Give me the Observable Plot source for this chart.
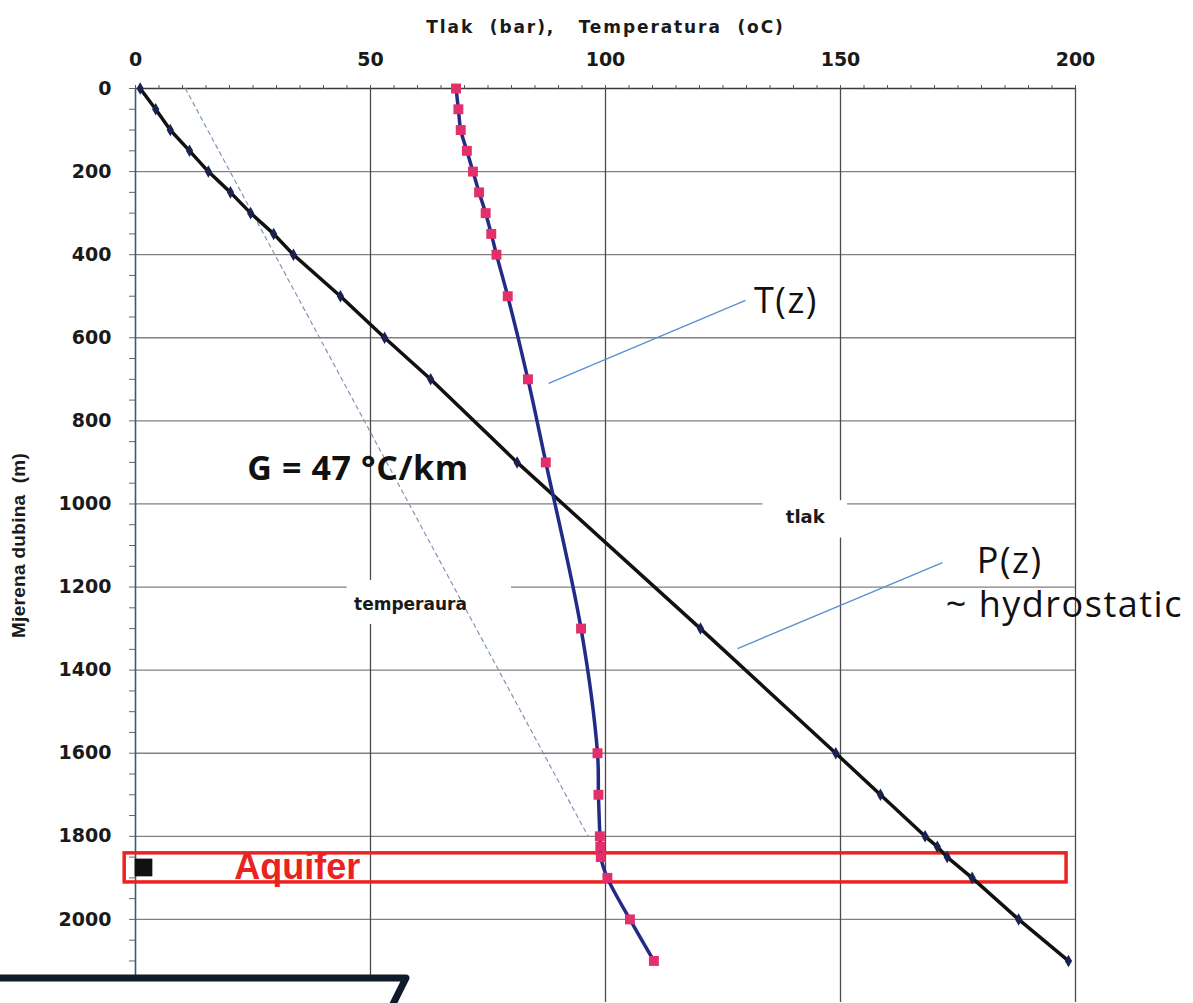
<!DOCTYPE html>
<html>
<head>
<meta charset="utf-8">
<script src="https://cdn.jsdelivr.net/npm/d3@7"></script>
<script src="https://cdn.jsdelivr.net/npm/@observablehq/plot@0.6"></script>
<style>
  html, body { margin: 0; padding: 0; background: #fff; }
  #wrap { position: relative; width: 1193px; height: 1003px; overflow: hidden; }
  #deco { position: absolute; left: 0; top: 0; pointer-events: none; }
</style>
</head>
<body>
<div id="wrap"></div>
<script>
// ---- data ----
const xTicks = [0, 50, 100, 150, 200];
const yTicks = [0, 200, 400, 600, 800, 1000, 1200, 1400, 1600, 1800, 2000];

// temperature profile T(z)
const depthT = [0, 50, 100, 150, 200, 250, 300, 350, 400, 500, 700, 900, 1300, 1600, 1700, 1800, 1825, 1850, 1900, 2000, 2100];
const tempT  = [68.2, 68.7, 69.2, 70.5, 71.8, 73.1, 74.5, 75.7, 76.8, 79.2, 83.5, 87.3, 94.8, 98.3, 98.5, 98.8, 98.9, 99.0, 100.4, 105.2, 110.3];

// pressure profile P(z)
const depthP = [0, 50, 100, 150, 200, 250, 300, 350, 400, 500, 600, 700, 900, 1300, 1600, 1700, 1800, 1825, 1850, 1900, 2000, 2100];
const presP  = [1, 4.3, 7.4, 11.5, 15.5, 20.2, 24.5, 29.4, 33.6, 43.6, 53, 62.8, 81.2, 120.2, 149, 158.5, 168, 170.6, 172.7, 178, 187.9, 198.5];

// geothermal gradient line (G = 47 °C/km)
const depthG = [0, 1800];
const tempG  = [10.6, 96.3];

// aquifer interval (m)
const aquiferTop = 1841, aquiferBottom = 1911;

const xTitle = "Tlak  (bar),   Temperatura  (oC)";
const yTitle = "Mjerena dubina  (m)";

// ---- build rows ----
const tRows = depthT.map((d, i) => ({depth: d, v: tempT[i]}));
const pRows = depthP.map((d, i) => ({depth: d, v: presP[i]}));
const gRows = depthG.map((d, i) => ({depth: d, v: tempG[i]}));

const boldFont = "'DejaVu Sans', sans-serif";
const annFont = "'Open Sans', 'Noto Sans', sans-serif";

const chart = Plot.plot({
  width: 1193,
  height: 1003,
  marginLeft: 135,
  marginRight: 118,
  marginTop: 88,
  marginBottom: 1,
  x: {domain: [0, 200]},
  y: {domain: [0, 2200], reverse: true},
  style: {background: "transparent", color: "#222"},
  marks: [
    // grid
    Plot.gridY(d3.range(200, 2200, 200), {stroke: "#808080", strokeOpacity: 1, strokeWidth: 1.3}),
    Plot.gridX([50, 100, 150, 200], {stroke: "#4a4a4a", strokeOpacity: 1, strokeWidth: 1.3}),
    // white label boxes that break the grid
    Plot.rect([0], {x1: 133.5, x2: 151.5, y1: 992, y2: 1082, fill: "white"}),
    Plot.rect([0], {x1: 45, x2: 80, y1: 1184, y2: 1290, fill: "white"}),
    // axes frame
    Plot.ruleY([0], {stroke: "#3a3a3a", strokeWidth: 1.6}),
    Plot.ruleX([0], {stroke: "#33606c", strokeWidth: 1.6}),
    // minor ticks
    Plot.axisX({anchor: "top", ticks: d3.range(0, 201, 5), tickSize: 4, tickFormat: () => "", label: null, stroke: "#555"}),
    Plot.axisY({anchor: "left", ticks: d3.range(0, 2200, 50), tickSize: 6, tickFormat: () => "", label: null, stroke: "#666"}),
    // major tick labels
    Plot.axisX({anchor: "top", ticks: xTicks, tickSize: 0, tickPadding: 23, label: null, tickFormat: d => String(d),
      fontSize: 19, fontWeight: "bold", fontFamily: boldFont, fill: "#1a1a1a"}),
    Plot.axisY({anchor: "left", ticks: yTicks, tickSize: 0, tickPadding: 24, label: null, tickFormat: d => String(d),
      fontSize: 19, fontWeight: "bold", fontFamily: boldFont, fill: "#1a1a1a"}),
    // axis titles
    Plot.text([xTitle], {frameAnchor: "top", dy: -68, fontSize: 17, fontWeight: "bold", fontFamily: boldFont, fill: "#1a1a1a"}),
    Plot.text([yTitle], {frameAnchor: "left", textAnchor: "middle", rotate: -90, dx: -117, fontSize: 19, fontWeight: "bold",
      fontFamily: "'Liberation Sans', sans-serif", fill: "#1a1a1a"}),
    // gradient (dashed)
    Plot.line(gRows, {x: "v", y: "depth", stroke: "#8096b5", strokeWidth: 1.2, strokeDasharray: "4,4"}),
    // aquifer
    Plot.rect([0], {x1: -2.3, x2: 198.1, y1: aquiferTop, y2: aquiferBottom, fill: "none", stroke: "#ea2320", strokeWidth: 3.5}),
    Plot.dot([0], {x: 1.7, y: 1875, symbol: "square", r: 10, fill: "#111"}),
    // pressure
    Plot.line(pRows, {x: "v", y: "depth", stroke: "#111", strokeWidth: 3.5}),
    Plot.dot(pRows, {x: "v", y: "depth", symbol: "diamond", r: 3.8, fill: "#1b2150"}),
    // temperature
    Plot.line(tRows, {x: "v", y: "depth", curve: "catmull-rom", stroke: "#222b86", strokeWidth: 3.5}),
    Plot.dot(tRows, {x: "v", y: "depth", symbol: "square", r: 5.6, fill: "#e3306b"}),
    // leader lines
    Plot.link([0], {x1: 87.9, y1: 710, x2: 129.8, y2: 510, stroke: "#5b8fd0", strokeWidth: 1.3}),
    Plot.link([0], {x1: 128.1, y1: 1348, x2: 171.7, y2: 1141, stroke: "#5b8fd0", strokeWidth: 1.3}),
    // annotations
    Plot.text(["T(z)"], {x: 131.6, y: 512, textAnchor: "start", fontSize: 36, fontFamily: annFont, fill: "#111"}),
    Plot.text(["P(z)"], {x: 179, y: 1138, textAnchor: "start", fontSize: 36, fontFamily: annFont, fill: "#111"}),
    Plot.text(["~ hydrostatic"], {x: 172.4, y: 1245, textAnchor: "start", fontSize: 36, fontFamily: annFont, fill: "#111"}),
    Plot.text(["G = 47 °C/km"], {x: 23.8, y: 915, textAnchor: "start", fontSize: 34, fontWeight: "bold", fontFamily: annFont, fill: "#111"}),
    Plot.text(["temperaura"], {x: 58.5, y: 1242, fontSize: 17, fontWeight: "bold", fontFamily: boldFont, fill: "#1a1a1a"}),
    Plot.text(["tlak"], {x: 142.5, y: 1033, fontSize: 18, fontWeight: "bold", fontFamily: boldFont, fill: "#1a1a1a"}),
    Plot.text(["Aquifer"], {x: 21, y: 1874, textAnchor: "start", fontSize: 36, fontWeight: "bold",
      fontFamily: "'Liberation Sans', sans-serif", fill: "#ea2320"})
  ]
});

// letter spacing tweaks to match the wide lettering of the original
const spacing = {"T(z)": 1.5, "P(z)": 1.5, "~ hydrostatic": 1.5, "G = 47 °C/km": 0.6, [xTitle]: 1.9, [yTitle]: 0.3};
chart.querySelectorAll("text").forEach(t => {
  const s = spacing[t.textContent];
  if (s != null) t.style.letterSpacing = s + "px";
});

const wrap = document.getElementById("wrap");
wrap.appendChild(chart);

// slide decoration overlapping the bottom-left (not part of the data)
const ns = "http://www.w3.org/2000/svg";
const deco = document.createElementNS(ns, "svg");
deco.setAttribute("id", "deco");
deco.setAttribute("width", 1193);
deco.setAttribute("height", 1003);
const bg = document.createElementNS(ns, "polygon");
bg.setAttribute("points", "0,981 408,981 396,1003 0,1003");
bg.setAttribute("fill", "#fff");
deco.appendChild(bg);
const pl = document.createElementNS(ns, "polyline");
pl.setAttribute("points", "0,978 406,978 392,1006");
pl.setAttribute("fill", "none");
pl.setAttribute("stroke", "#0f1a2a");
pl.setAttribute("stroke-width", 7);
pl.setAttribute("stroke-linejoin", "round");
deco.appendChild(pl);
wrap.appendChild(deco);
</script>
</body>
</html>
